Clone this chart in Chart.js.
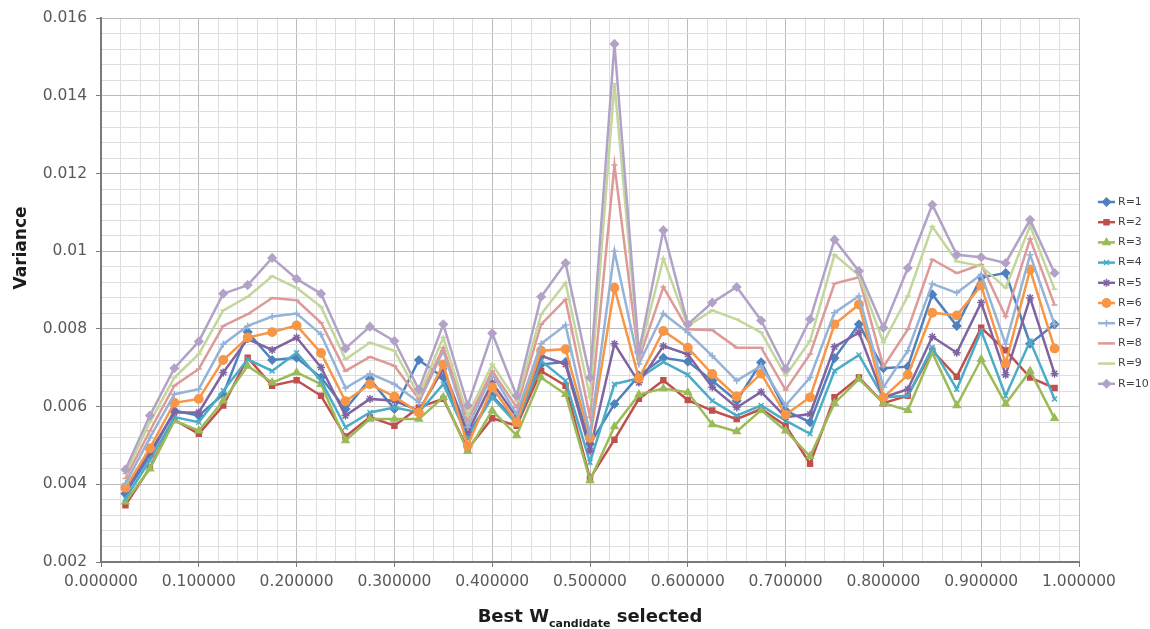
<!DOCTYPE html>
<html>
<head>
<meta charset="utf-8">
<title>Variance by best W candidate</title>
<script src="https://cdn.jsdelivr.net/npm/chart.js@4.4.0/dist/chart.umd.min.js"></script>
<style>
  html, body { margin: 0; padding: 0; background: #ffffff; }
  #wrap { position: relative; width: 1150px; height: 629px; }
</style>
</head>
<body>
<div id="wrap"><canvas id="chart" width="1150" height="629"></canvas></div>
<script>
"use strict";

// Best W candidate (x) for every sample
var wValues = [0.025, 0.05, 0.075, 0.1, 0.125, 0.15, 0.175, 0.2, 0.225, 0.25,
    0.275, 0.3, 0.325, 0.35, 0.375, 0.4, 0.425, 0.45, 0.475, 0.5,
    0.525, 0.55, 0.575, 0.6, 0.625, 0.65, 0.675, 0.7, 0.725, 0.75,
    0.775, 0.8, 0.825, 0.85, 0.875, 0.9, 0.925, 0.95, 0.975];

// variance per R
var r1 = [0.00376, 0.00474, 0.0059, 0.00577, 0.00632, 0.00792, 0.0072, 0.00726, 0.00675, 0.00594,
    0.00671, 0.00594, 0.0072, 0.00675, 0.00526, 0.00628, 0.0056, 0.00709, 0.00715, 0.00504,
    0.00607, 0.0068, 0.00726, 0.00716, 0.00667, 0.00615, 0.00714, 0.0059, 0.0056, 0.00725,
    0.00812, 0.00699, 0.00703, 0.00889, 0.00808, 0.00933, 0.00944, 0.00762, 0.00812];
var r2 = [0.00346, 0.00443, 0.00566, 0.0053, 0.00603, 0.00726, 0.00654, 0.00668, 0.00628, 0.00523,
    0.00573, 0.00551, 0.00598, 0.0062, 0.00491, 0.0057, 0.00551, 0.00692, 0.00654, 0.00415,
    0.00515, 0.0062, 0.00668, 0.00617, 0.0059, 0.00568, 0.00594, 0.00551, 0.00453, 0.00624,
    0.00675, 0.00609, 0.00628, 0.00744, 0.00677, 0.00803, 0.00745, 0.00675, 0.00648];
var r3 = [0.00355, 0.0044, 0.00564, 0.00538, 0.00615, 0.00705, 0.00662, 0.00688, 0.00658, 0.00513,
    0.00568, 0.00568, 0.00568, 0.00624, 0.00485, 0.0059, 0.00526, 0.00675, 0.00632, 0.0041,
    0.00549, 0.00631, 0.00647, 0.00637, 0.00554, 0.00536, 0.00591, 0.00538, 0.00472, 0.00609,
    0.00671, 0.00609, 0.00591, 0.00739, 0.00603, 0.00722, 0.00607, 0.00692, 0.0057];
var r4 = [0.00363, 0.00462, 0.00573, 0.0056, 0.00641, 0.00722, 0.00692, 0.00739, 0.00667, 0.00547,
    0.00585, 0.00598, 0.00585, 0.00658, 0.00521, 0.00624, 0.00556, 0.00718, 0.00667, 0.00457,
    0.00658, 0.00673, 0.00715, 0.00682, 0.00615, 0.00577, 0.00603, 0.00564, 0.0053, 0.00692,
    0.00733, 0.00624, 0.00628, 0.00752, 0.00645, 0.00795, 0.00628, 0.00769, 0.0062];
var r5 = [0.00385, 0.00483, 0.00585, 0.00585, 0.00688, 0.00774, 0.00746, 0.00778, 0.00701, 0.00577,
    0.0062, 0.00615, 0.0059, 0.00697, 0.00534, 0.00662, 0.00573, 0.00731, 0.00709, 0.00487,
    0.00762, 0.00662, 0.00756, 0.00735, 0.0065, 0.00598, 0.00638, 0.00573, 0.00581, 0.00754,
    0.00791, 0.00624, 0.00645, 0.0078, 0.00739, 0.00868, 0.00682, 0.0088, 0.00685];
var r6 = [0.00391, 0.00493, 0.0061, 0.0062, 0.0072, 0.00778, 0.00792, 0.00809, 0.00738, 0.00614,
    0.00658, 0.00626, 0.00585, 0.00709, 0.005, 0.0065, 0.0056, 0.00744, 0.00748, 0.0052,
    0.00906, 0.00673, 0.00795, 0.00752, 0.00684, 0.00626, 0.00685, 0.00579, 0.00624, 0.00812,
    0.00863, 0.00624, 0.00682, 0.00842, 0.00835, 0.00912, 0.00711, 0.00953, 0.0075];
var r7 = [0.00402, 0.0052, 0.00632, 0.00645, 0.00761, 0.00808, 0.00832, 0.0084, 0.00786, 0.00648,
    0.00685, 0.00658, 0.00611, 0.00744, 0.00547, 0.00684, 0.00581, 0.00762, 0.0081, 0.0053,
    0.01, 0.0071, 0.0084, 0.00791, 0.00731, 0.00667, 0.00705, 0.00603, 0.00675, 0.00842,
    0.00885, 0.0065, 0.00744, 0.00916, 0.00893, 0.0094, 0.00761, 0.00991, 0.00812];
var r8 = [0.00415, 0.00538, 0.00654, 0.00697, 0.00808, 0.00838, 0.0088, 0.00874, 0.00816, 0.00692,
    0.00728, 0.00705, 0.0062, 0.00752, 0.00564, 0.00692, 0.00598, 0.00812, 0.00876, 0.00573,
    0.01222, 0.00722, 0.00908, 0.00799, 0.00797, 0.00752, 0.00752, 0.00643, 0.00735, 0.00917,
    0.00933, 0.00703, 0.00799, 0.00979, 0.00944, 0.00966, 0.00832, 0.01032, 0.00862];
var r9 = [0.00427, 0.0056, 0.00675, 0.00735, 0.00848, 0.00883, 0.00936, 0.00906, 0.00857, 0.00722,
    0.00765, 0.00744, 0.00628, 0.00778, 0.00577, 0.00709, 0.00614, 0.00838, 0.00919, 0.00624,
    0.01432, 0.00733, 0.00981, 0.00808, 0.00848, 0.00825, 0.00791, 0.0068, 0.00769, 0.00991,
    0.00938, 0.00765, 0.00885, 0.01064, 0.00974, 0.00962, 0.00906, 0.01066, 0.00902];
var r10 = [0.00438, 0.00577, 0.00699, 0.00768, 0.00891, 0.00913, 0.00983, 0.00929, 0.00891, 0.0075,
    0.00806, 0.00769, 0.00644, 0.00812, 0.00603, 0.00789, 0.00628, 0.00883, 0.0097, 0.00675,
    0.01534, 0.00741, 0.01054, 0.00812, 0.00868, 0.00908, 0.00822, 0.00697, 0.00825, 0.0103,
    0.00949, 0.00803, 0.00957, 0.0112, 0.00991, 0.00985, 0.0097, 0.01081, 0.00944];

var seriesNames = ["R=1", "R=2", "R=3", "R=4", "R=5", "R=6", "R=7", "R=8", "R=9", "R=10"];
var seriesValues = [r1, r2, r3, r4, r5, r6, r7, r8, r9, r10];

// axis ranges (major labels every 0.1 / 0.002, minor grid in between)
var xMin = 0, xMax = 1, xMinorSteps = 50, xMinorPerMajor = 5;
var yMin = 0.002, yMax = 0.016, yMinorSteps = 35, yMinorPerMajor = 5;

var colors = ["#4F81BD", "#C0504D", "#9BBB59", "#4BACC6", "#8064A2",
    "#F79646", "#95B3D7", "#DD9A98", "#C3D69B", "#B3A2C7"];
var markers = ["rectRot", "rect", "triangle", "crossRot", "star",
    "circle", "cross", "line", "line", "rectRot"];
var markerSizes = [4, 3.5, 4, 3.5, 4, 4.2, 3.5, 3, 3, 4];

var FONT = "'DejaVu Sans', sans-serif";
Chart.defaults.font.family = FONT;

function isMajor(index, perMajor) {
    return index % perMajor === 0;
}

var datasets = seriesValues.map(function (vals, i) {
    return {
        label: seriesNames[i],
        data: vals.map(function (v, j) { return {x: wValues[j], y: v}; }),
        borderColor: colors[i],
        backgroundColor: colors[i],
        borderWidth: 2.5,
        pointStyle: markers[i],
        pointRadius: markerSizes[i],
        pointBorderWidth: 1.5,
        pointBorderColor: colors[i],
        pointBackgroundColor: colors[i],
        tension: 0,
        order: seriesNames.length - i   // later series on top, like the original
    };
});

// axis titles and the side legend are painted here
var decorations = {
    id: "decorations",
    afterDraw: function (chart) {
        var ctx = chart.ctx;
        ctx.save();

        // y title
        ctx.fillStyle = "#1b1b1b";
        ctx.font = "bold 17px " + FONT;
        ctx.textAlign = "center";
        ctx.textBaseline = "middle";
        ctx.translate(22, 248);
        ctx.rotate(-Math.PI / 2);
        ctx.fillText("Variance", 0, 0);
        ctx.setTransform(1, 0, 0, 1, 0, 0);

        // x title with subscript
        var big = "bold 18px " + FONT, small = "bold 11px " + FONT;
        var p1 = "Best W", p2 = "candidate", p3 = " selected";
        ctx.textAlign = "left";
        ctx.textBaseline = "alphabetic";
        ctx.font = big;
        var w1 = ctx.measureText(p1).width, w3 = ctx.measureText(p3).width;
        ctx.font = small;
        var w2 = ctx.measureText(p2).width;
        var cx = (chart.chartArea.left + chart.chartArea.right) / 2;
        var x = cx - (w1 + w2 + w3) / 2, base = 622;
        ctx.font = big;
        ctx.fillText(p1, x, base);
        ctx.font = small;
        ctx.fillText(p2, x + w1, base + 5);
        ctx.font = big;
        ctx.fillText(p3, x + w1 + w2, base);

        // legend: short line with the marker in the middle
        var lx = 1098, ly = 202, step = 20.2;
        chart.data.datasets.forEach(function (ds, i) {
            var y = ly + i * step;
            ctx.strokeStyle = ds.borderColor;
            ctx.fillStyle = ds.borderColor;
            ctx.lineWidth = 2.5;
            ctx.beginPath();
            ctx.moveTo(lx, y);
            ctx.lineTo(lx + 17, y);
            ctx.stroke();
            ctx.lineWidth = 1.5;
            if (Chart.helpers && Chart.helpers.drawPoint) {
                Chart.helpers.drawPoint(ctx, {
                    pointStyle: ds.pointStyle,
                    rotation: 0,
                    radius: ds.pointRadius,
                    borderWidth: 1.5
                }, lx + 8.5, y);
            }
            ctx.fillStyle = "#404040";
            ctx.font = "11px " + FONT;
            ctx.textBaseline = "middle";
            ctx.fillText(ds.label, lx + 20, y);
        });
        ctx.restore();
    }
};

var chart = new Chart(document.getElementById("chart").getContext("2d"), {
    type: "line",
    data: {datasets: datasets},
    options: {
        responsive: false,
        animation: false,
        layout: {padding: {top: 15, right: 71, bottom: 0, left: 0}},
        plugins: {
            legend: {display: false},
            tooltip: {enabled: false}
        },
        scales: {
            x: {
                type: "linear",
                min: xMin,
                max: xMax,
                afterBuildTicks: function (scale) {
                    var t = [];
                    for (var i = 0; i <= xMinorSteps; i++) {
                        t.push({value: xMin + (xMax - xMin) * i / xMinorSteps});
                    }
                    scale.ticks = t;
                },
                afterFit: function (scale) { scale.height = 67; },
                border: {color: "#7a7a7a", width: 2},
                grid: {
                    color: function (c) { return isMajor(c.index, xMinorPerMajor) ? "#bcbcbc" : "#dedede"; },
                    tickColor: function (c) { return isMajor(c.index, xMinorPerMajor) ? "#7a7a7a" : "rgba(0,0,0,0)"; },
                    tickLength: 5,
                    lineWidth: 1
                },
                ticks: {
                    autoSkip: false,
                    maxRotation: 0,
                    padding: 6,
                    color: "#595959",
                    font: {size: 15.5},
                    callback: function (v, i) {
                        return isMajor(i, xMinorPerMajor) ? Number(v).toFixed(6) : "";
                    }
                }
            },
            y: {
                type: "linear",
                min: yMin,
                max: yMax,
                afterBuildTicks: function (scale) {
                    var t = [];
                    for (var i = 0; i <= yMinorSteps; i++) {
                        t.push({value: yMin + (yMax - yMin) * i / yMinorSteps});
                    }
                    scale.ticks = t;
                },
                afterFit: function (scale) { scale.width = 101; },
                border: {color: "#7a7a7a", width: 2},
                grid: {
                    color: function (c) { return isMajor(c.index, yMinorPerMajor) ? "#bcbcbc" : "#dedede"; },
                    tickColor: function (c) { return isMajor(c.index, yMinorPerMajor) ? "#7a7a7a" : "rgba(0,0,0,0)"; },
                    tickLength: 5,
                    lineWidth: 1
                },
                ticks: {
                    autoSkip: false,
                    padding: 9,
                    color: "#595959",
                    font: {size: 15.5},
                    callback: function (v, i) {
                        return isMajor(i, yMinorPerMajor) ? String(parseFloat(Number(v).toFixed(4))) : "";
                    }
                }
            }
        }
    },
    plugins: [decorations]
});
</script>
</body>
</html>
